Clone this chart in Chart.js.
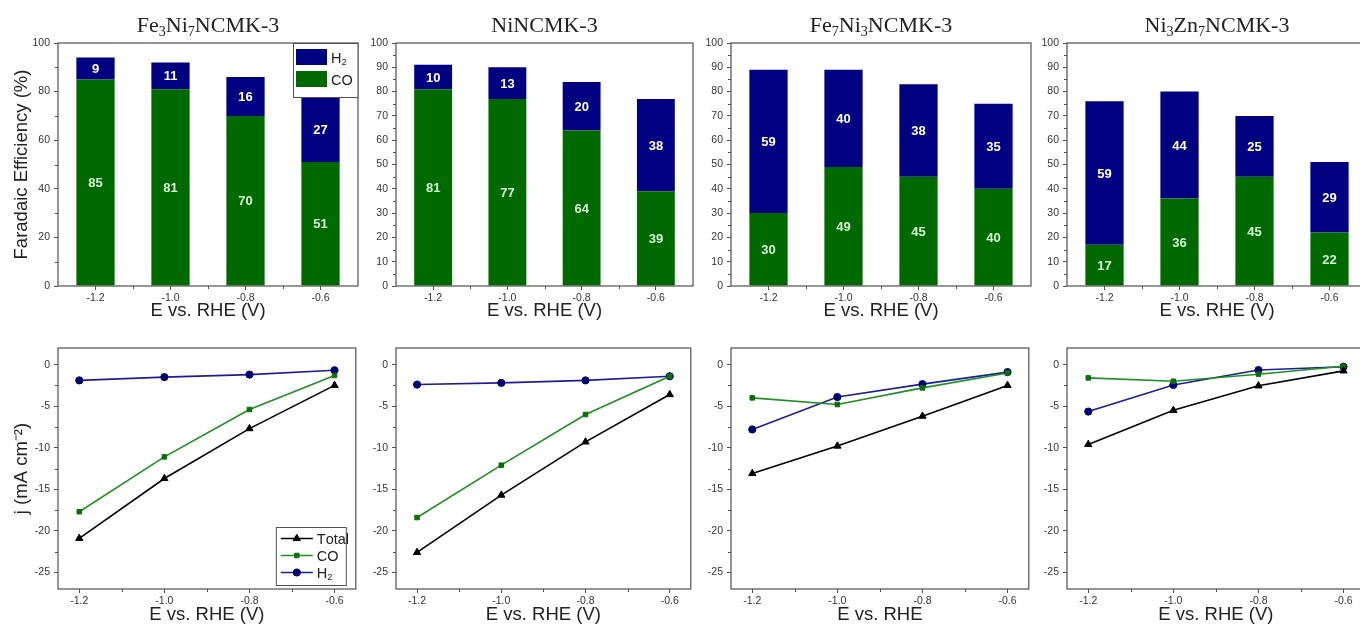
<!DOCTYPE html>
<html>
<head>
<meta charset="utf-8">
<script src="https://cdn.jsdelivr.net/npm/chart.js@4.4.0/dist/chart.umd.min.js"></script>
<style>
  html, body { margin: 0; padding: 0; background: #fff; overflow: hidden; }
  #wrap { position: relative; width: 1360px; height: 626px; overflow: hidden; }
  canvas { position: absolute; }
</style>
</head>
<body>
<div id="wrap"></div>
<script>
// ---- data ----
const potentials = ['-1.2', '-1.0', '-0.8', '-0.6'];
const potentialValues = [-1.2, -1.0, -0.8, -0.6];

// sample names, '_' marks a subscript run
const sampleTitles = [
    ['Fe', '_3', 'Ni', '_7', 'NCMK-3'],
    ['NiNCMK-3'],
    ['Fe', '_7', 'Ni', '_3', 'NCMK-3'],
    ['Ni', '_3', 'Zn', '_7', 'NCMK-3']
];

// Faradaic efficiency (%), one row per sample
const feCO = [
    [85, 81, 70, 51],
    [81, 77, 64, 39],
    [30, 49, 45, 40],
    [17, 36, 45, 22]
];
const feH2 = [
    [9, 11, 16, 27],
    [10, 13, 20, 38],
    [59, 40, 38, 35],
    [59, 44, 25, 29]
];

// current density (mA cm-2), one row per sample
const jTotal = [
    [-20.9, -13.7, -7.7, -2.5],
    [-22.6, -15.7, -9.3, -3.6],
    [-13.1, -9.8, -6.2, -2.5],
    [-9.6, -5.5, -2.55, -0.75]
];
const jCO = [
    [-17.7, -11.1, -5.4, -1.3],
    [-18.4, -12.1, -6.0, -1.4],
    [-4.0, -4.8, -2.8, -1.0],
    [-1.6, -2.0, -1.15, -0.2]
];
const jH2 = [
    [-1.9, -1.5, -1.2, -0.68],
    [-2.4, -2.2, -1.9, -1.4],
    [-7.8, -3.9, -2.35, -0.9],
    [-5.65, -2.45, -0.65, -0.25]
];

// ticks
const feTicksFirst = [0, 20, 40, 60, 80, 100];
const feMinorFirst = [10, 30, 50, 70, 90];
const feTicks = [0, 10, 20, 30, 40, 50, 60, 70, 80, 90, 100];
const feMinor = [5, 15, 25, 35, 45, 55, 65, 75, 85, 95];
const catMinor = [0.5, 1.5, 2.5];
const eTicks = [-1.2, -1.0, -0.8, -0.6];
const eMinor = [-1.1, -0.9, -0.7];
const jTicks = [-25, -20, -15, -10, -5, 0];
const jMinor = [-22.5, -17.5, -12.5, -7.5, -2.5];

const xTitlesTop = ['E vs. RHE (V)', 'E vs. RHE (V)', 'E vs. RHE (V)', 'E vs. RHE (V)'];
const xTitlesBottom = ['E vs. RHE (V)', 'E vs. RHE (V)', 'E vs. RHE', 'E vs. RHE (V)'];

// ---- layout & style ----
const SANS = "'Liberation Sans', Arial, sans-serif";
const SERIF = "'Liberation Serif', 'Times New Roman', serif";
const plotLeft = [58, 396, 731, 1067];
const plotRight = [358, 693, 1031, 1367];
const AXIS_W = 58;

const C = {
    frame: '#505050',
    tick: '#333',
    title: '#222',
    barCO: '#006a00',
    barH2: '#000080',
    labelCO: '#d6f3d6',
    labelH2: '#ffffff',
    lineTotal: '#000000',
    lineCO: '#1f8f1f',
    markCO: '#0b6e0b',
    lineH2: '#1c1c98',
    markH2: '#000070'
};

Chart.defaults.font.family = SANS;
Chart.defaults.color = C.tick;

const wrap = document.getElementById('wrap');

function makeCanvas(left, top, w, h) {
    const c = document.createElement('canvas');
    c.width = w;
    c.height = h;
    c.style.left = left + 'px';
    c.style.top = top + 'px';
    c.style.width = w + 'px';
    c.style.height = h + 'px';
    wrap.appendChild(c);
    return c;
}

function richFromLabel(label) {
    const subs = '₀₁₂₃₄₅₆₇₈₉';
    const parts = [];
    for (const ch of label) {
        const k = subs.indexOf(ch);
        parts.push(k >= 0 ? '_' + k : ch);
    }
    return parts;
}

function drawRich(ctx, parts, x, y, size, family, align, color) {
    const segs = parts.map(p => p[0] === '_' && p.length > 1
        ? { t: p.slice(1), s: size * 0.64, dy: size * 0.2 }
        : { t: p, s: size, dy: 0 });
    let total = 0;
    segs.forEach(g => {
        ctx.font = g.s + 'px ' + family;
        g.w = ctx.measureText(g.t).width;
        total += g.w;
    });
    let cx = align === 'center' ? x - total / 2 : x;
    ctx.textAlign = 'left';
    ctx.textBaseline = 'alphabetic';
    ctx.fillStyle = color;
    segs.forEach(g => {
        ctx.font = g.s + 'px ' + family;
        ctx.fillText(g.t, cx, y + g.dy);
        cx += g.w;
    });
}

// box frame + minor ticks
const framePlugin = {
    id: 'frame',
    afterDraw(chart, args, opts) {
        const { ctx, chartArea: a } = chart;
        ctx.save();
        ctx.strokeStyle = C.frame;
        ctx.lineWidth = 1.2;
        ctx.strokeRect(a.left, a.top, a.right - a.left, a.bottom - a.top);
        ctx.lineWidth = 1;
        ctx.beginPath();
        (opts.xMinor || []).forEach(v => {
            const px = Math.round(chart.scales.x.getPixelForValue(v)) + 0.5;
            ctx.moveTo(px, a.bottom);
            ctx.lineTo(px, a.bottom + 3);
        });
        (opts.yMinor || []).forEach(v => {
            const py = Math.round(chart.scales.y.getPixelForValue(v)) + 0.5;
            ctx.moveTo(a.left - 3, py);
            ctx.lineTo(a.left, py);
        });
        ctx.stroke();
        ctx.restore();
    }
};

const panelTitlePlugin = {
    id: 'panelTitle',
    afterDraw(chart, args, opts) {
        const { ctx, chartArea: a } = chart;
        ctx.save();
        drawRich(ctx, opts.parts, (a.left + a.right) / 2, opts.y, 22, SERIF, 'center', '#222');
        ctx.restore();
    }
};

const barValuesPlugin = {
    id: 'barValues',
    afterDatasetsDraw(chart) {
        const { ctx } = chart;
        ctx.save();
        ctx.font = 'bold 13px ' + SANS;
        ctx.textAlign = 'center';
        ctx.textBaseline = 'middle';
        chart.data.datasets.forEach((ds, d) => {
            ctx.fillStyle = ds.labelColor;
            chart.getDatasetMeta(d).data.forEach((el, k) => {
                ctx.fillText(String(ds.data[k]), el.x, (el.y + el.base) / 2 + 1);
            });
        });
        ctx.restore();
    }
};

// legend with filled patches, top right of the plot
const patchLegendPlugin = {
    id: 'patchLegend',
    afterDraw(chart, args, opts) {
        const { ctx, chartArea: a } = chart;
        const w = 65, h = 54;
        const x0 = a.right - w, y0 = a.top;
        ctx.save();
        ctx.fillStyle = '#fff';
        ctx.fillRect(x0, y0, w, h);
        ctx.strokeStyle = C.frame;
        ctx.lineWidth = 1;
        ctx.strokeRect(x0 + 0.5, y0 + 0.5, w - 0.5, h);
        const items = chart.data.datasets.slice().reverse();
        items.forEach((ds, k) => {
            const yy = y0 + 6 + k * 22;
            ctx.fillStyle = ds.backgroundColor;
            ctx.fillRect(x0 + 3, yy, 31, 16);
            drawRich(ctx, richFromLabel(ds.label), x0 + 38, yy + 13.5, 14.5, SANS, 'left', '#222');
        });
        ctx.restore();
    }
};

// legend with line + marker samples, bottom right of the plot
const lineLegendPlugin = {
    id: 'lineLegend',
    afterDraw(chart, args, opts) {
        const { ctx, chartArea: a } = chart;
        const w = 70, h = 58;
        const x0 = a.right - 10 - w, y0 = a.bottom - 4 - h;
        ctx.save();
        ctx.fillStyle = '#fff';
        ctx.fillRect(x0, y0, w, h);
        ctx.strokeStyle = C.frame;
        ctx.lineWidth = 1;
        ctx.strokeRect(x0 + 0.5, y0 + 0.5, w, h);
        chart.data.datasets.forEach((ds, k) => {
            const yy = y0 + 11.5 + k * 17;
            ctx.strokeStyle = ds.borderColor;
            ctx.lineWidth = 1.6;
            ctx.beginPath();
            ctx.moveTo(x0 + 5, yy);
            ctx.lineTo(x0 + 37, yy);
            ctx.stroke();
            ctx.fillStyle = ds.pointBackgroundColor;
            ctx.strokeStyle = ds.pointBorderColor;
            ctx.lineWidth = 1;
            Chart.helpers.drawPoint(ctx, { pointStyle: ds.pointStyle, radius: ds.pointRadius, rotation: 0, borderWidth: 1 }, x0 + 21, yy);
            drawRich(ctx, richFromLabel(ds.label), x0 + 41, yy + 5, 14.5, SANS, 'left', '#222');
        });
        ctx.restore();
    }
};

function gridOpts() {
    return { display: true, drawOnChartArea: false, drawTicks: true, tickLength: 4, color: C.frame, lineWidth: 1, offset: false };
}

function axisTitle(text, show, pad) {
    return { display: show, text: text, color: C.title, font: { size: 18.5, lineHeight: 1 }, padding: pad };
}

function pts(arr) {
    return potentialValues.map((x, k) => ({ x: x, y: arr[k] }));
}

for (let i = 0; i < 4; i++) {
    const left = plotLeft[i] - AXIS_W;
    const width = plotRight[i] - plotLeft[i] + AXIS_W + 3;

    // ---- top row: stacked Faradaic efficiency bars ----
    const topCanvas = makeCanvas(left, 0, width, 320);
    new Chart(topCanvas, {
        type: 'bar',
        data: {
            labels: potentials,
            datasets: [
                { label: 'CO', data: feCO[i], backgroundColor: C.barCO, labelColor: C.labelCO },
                { label: 'H₂', data: feH2[i], backgroundColor: C.barH2, labelColor: C.labelH2 }
            ]
        },
        options: {
            responsive: false,
            animation: false,
            devicePixelRatio: 1,
            layout: { padding: { left: 0, right: 3, top: 43, bottom: 0 } },
            datasets: { bar: { barPercentage: 0.51, categoryPercentage: 1, borderWidth: 0 } },
            scales: {
                x: {
                    stacked: true,
                    offset: true,
                    grid: gridOpts(),
                    border: { display: false },
                    ticks: { font: { size: 10.5 }, color: C.tick, padding: 2, maxRotation: 0 },
                    title: axisTitle(xTitlesTop[i], true, { top: 0, bottom: 0 }),
                    afterFit: s => { s.height = 320 - 286; }
                },
                y: {
                    stacked: true,
                    min: 0,
                    max: 100,
                    grid: gridOpts(),
                    border: { display: false },
                    ticks: { font: { size: 10.5 }, color: C.tick, padding: 4 },
                    afterBuildTicks: s => { s.ticks = (i === 0 ? feTicksFirst : feTicks).map(v => ({ value: v })); },
                    title: axisTitle('Faradaic Efficiency (%)', i === 0, { top: 13, bottom: 0 }),
                    afterFit: s => { s.width = AXIS_W; }
                }
            },
            plugins: {
                legend: { display: false },
                tooltip: { enabled: false },
                frame: { xMinor: catMinor, yMinor: i === 0 ? feMinorFirst : feMinor },
                panelTitle: { parts: sampleTitles[i], y: 32 },
                patchLegend: i === 0 ? {} : false
            }
        },
        plugins: [barValuesPlugin, framePlugin, panelTitlePlugin, patchLegendPlugin]
    });

    // ---- bottom row: partial current densities ----
    const botCanvas = makeCanvas(left, 320, width, 306);
    new Chart(botCanvas, {
        type: 'line',
        data: {
            datasets: [
                { label: 'Total', data: pts(jTotal[i]), borderColor: C.lineTotal, pointBackgroundColor: C.lineTotal, pointBorderColor: C.lineTotal, pointStyle: 'triangle', pointRadius: 4.2 },
                { label: 'CO', data: pts(jCO[i]), borderColor: C.lineCO, pointBackgroundColor: C.markCO, pointBorderColor: C.markCO, pointStyle: 'rect', pointRadius: 3.2 },
                { label: 'H₂', data: pts(jH2[i]), borderColor: C.lineH2, pointBackgroundColor: C.markH2, pointBorderColor: C.markH2, pointStyle: 'circle', pointRadius: 3.6 }
            ]
        },
        options: {
            responsive: false,
            animation: false,
            devicePixelRatio: 1,
            layout: { padding: { left: 0, right: 3, top: 348 - 320, bottom: 0 } },
            datasets: { line: { borderWidth: 1.6, tension: 0, pointBorderWidth: 1, clip: false } },
            scales: {
                x: {
                    type: 'linear',
                    min: -1.25,
                    max: -0.55,
                    grid: gridOpts(),
                    border: { display: false },
                    ticks: { font: { size: 10.5 }, color: C.tick, padding: 2, maxRotation: 0, callback: v => v.toFixed(1) },
                    afterBuildTicks: s => { s.ticks = eTicks.map(v => ({ value: v })); },
                    title: axisTitle(xTitlesBottom[i], true, { top: 0, bottom: 2 }),
                    afterFit: s => { s.height = 626 - 589; }
                },
                y: {
                    min: -27,
                    max: 2,
                    grid: gridOpts(),
                    border: { display: false },
                    ticks: { font: { size: 10.5 }, color: C.tick, padding: 4, callback: v => String(v) },
                    afterBuildTicks: s => { s.ticks = jTicks.map(v => ({ value: v })); },
                    title: axisTitle('j (mA cm⁻²)', i === 0, { top: 13, bottom: 0 }),
                    afterFit: s => { s.width = AXIS_W; }
                }
            },
            plugins: {
                legend: { display: false },
                tooltip: { enabled: false },
                frame: { xMinor: eMinor, yMinor: jMinor },
                lineLegend: i === 0 ? {} : false
            }
        },
        plugins: [framePlugin, lineLegendPlugin]
    });
}
</script>
</body>
</html>
